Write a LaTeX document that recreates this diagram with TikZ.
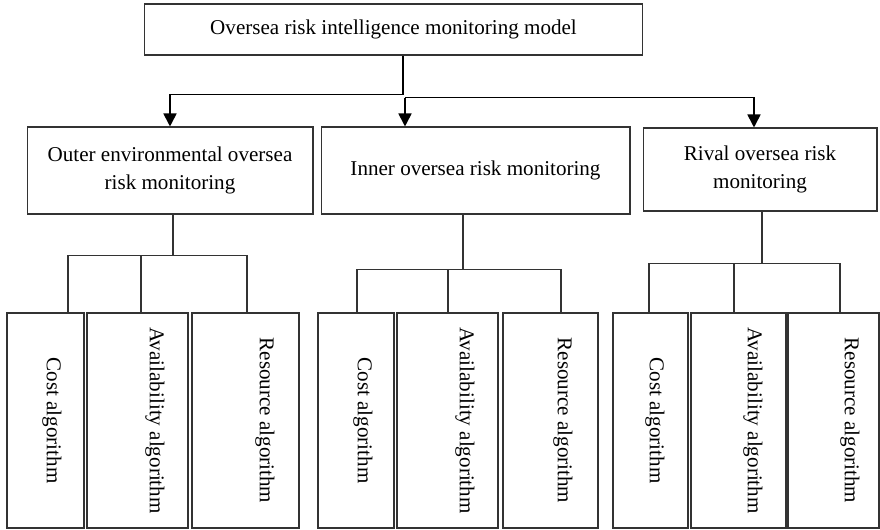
\documentclass[tikz,border=0pt]{standalone}
\usepackage{fontspec}
\setmainfont{Liberation Serif}
\definecolor{boxgray}{RGB}{51,51,51}
\usetikzlibrary{arrows.meta,positioning}

\begin{document}
\begin{tikzpicture}[x=0.02cm, y=-0.02cm,
  box/.style={draw=boxgray, line width=0.6pt, inner sep=2pt, align=center, font=\fontsize{12}{15.5}\selectfont},
  algbox/.style={draw=boxgray, line width=0.6pt, minimum height=4.3cm, inner sep=0pt},
  algtext/.style={rotate=-90, font=\fontsize{12}{14}\selectfont, inner sep=0pt},
  arr/.style={-{Triangle[length=0.26cm,width=0.26cm]}, line width=1pt},
  link/.style={draw=boxgray, line width=0.6pt}]
\useasboundingbox (0,0) rectangle (880,530);
% Top model
\node[box, minimum width=9.98cm, minimum height=1.02cm] (model) at (393.5,29.5) {Oversea risk intelligence monitoring model};
% Monitoring parts
\node[box, minimum width=5.72cm, minimum height=1.74cm] (outer) at (170,170.5) {Outer environmental oversea\\risk monitoring};
\node[box, minimum width=6.18cm, minimum height=1.74cm] (inner) at (475.5,170.5) {Inner oversea risk monitoring};
\node[box, minimum width=4.68cm, minimum height=1.66cm] (rival) at (760,169.5) {Rival oversea risk\\monitoring};
% Arrows from the model
\draw[line width=1pt] ([xshift=0.19cm]model.south) -- ++(0,39) coordinate (split);
\draw[arr] (split) -| (outer.north);
\draw[arr] ([xshift=0.04cm]split) ++(0,3) coordinate (split2) -| ([xshift=-0.12cm]rival.north);
\draw[arr] (split2) -- (split2 |- inner.north);
% Outer algorithms
\node[algbox, minimum width=1.54cm] (oc) at (45.5,420.5) {};
\node[algbox, minimum width=2.02cm] (oa) at (137.5,420.5) {};
\node[algbox, minimum width=2.14cm] (or) at (245.5,420.5) {};
\node[algtext] (oc-t) at ([xshift=0.13cm]oc.center) {Cost algorithm};
\node[algtext] (oa-t) at ([xshift=0.35cm]oa.center) {Availability algorithm};
\node[algtext] (or-t) at ([xshift=0.39cm]or.center) {Resource algorithm};
% Inner algorithms
\node[algbox, minimum width=1.52cm] (ic) at (356,420.5) {};
\node[algbox, minimum width=2.02cm] (ia) at (447.5,420.5) {};
\node[algbox, minimum width=1.90cm] (ir) at (550.5,420.5) {};
\node[algtext] (ic-t) at ([xshift=0.14cm]ic.center) {Cost algorithm};
\node[algtext] (ia-t) at ([xshift=0.35cm]ia.center) {Availability algorithm};
\node[algtext] (ir-t) at ([xshift=0.25cm]ir.center) {Resource algorithm};
% Rival algorithms
\node[algbox, minimum width=1.50cm] (rc) at (650.5,420.5) {};
\node[algbox, minimum width=1.90cm] (ra) at (738.5,420.5) {};
\node[algbox, minimum width=1.82cm] (rr) at (833.5,420.5) {};
\node[algtext] (rc-t) at ([xshift=0.09cm]rc.center) {Cost algorithm};
\node[algtext] (ra-t) at ([xshift=0.29cm]ra.center) {Availability algorithm};
\node[algtext] (rr-t) at ([xshift=0.33cm]rr.center) {Resource algorithm};
% Tree lines
\draw[link] ([xshift=0.06cm]outer.south) -- ++(0,41) coordinate (obus);
\draw[link] ([xshift=0.45cm]oc.north) |- (obus) -| ([xshift=0.03cm]or.north);
\draw[link] ([xshift=0.07cm]oa.north) |- (obus);
\draw[link] ([xshift=-0.25cm]inner.south) -- ++(0,55) coordinate (ibus);
\draw[link] ([xshift=0.02cm]ic.north) |- (ibus) -| ([xshift=0.21cm]ir.north);
\draw[link] ([xshift=0.01cm]ia.north) |- (ibus);
\draw[link] ([xshift=0.04cm]rival.south) -- ++(0,52) coordinate (rbus);
\draw[link] ([xshift=-0.03cm]rc.north) |- (rbus) -| ([xshift=0.13cm]rr.north);
\draw[link] ([xshift=-0.09cm]ra.north) |- (rbus);
\end{tikzpicture}
\end{document}
